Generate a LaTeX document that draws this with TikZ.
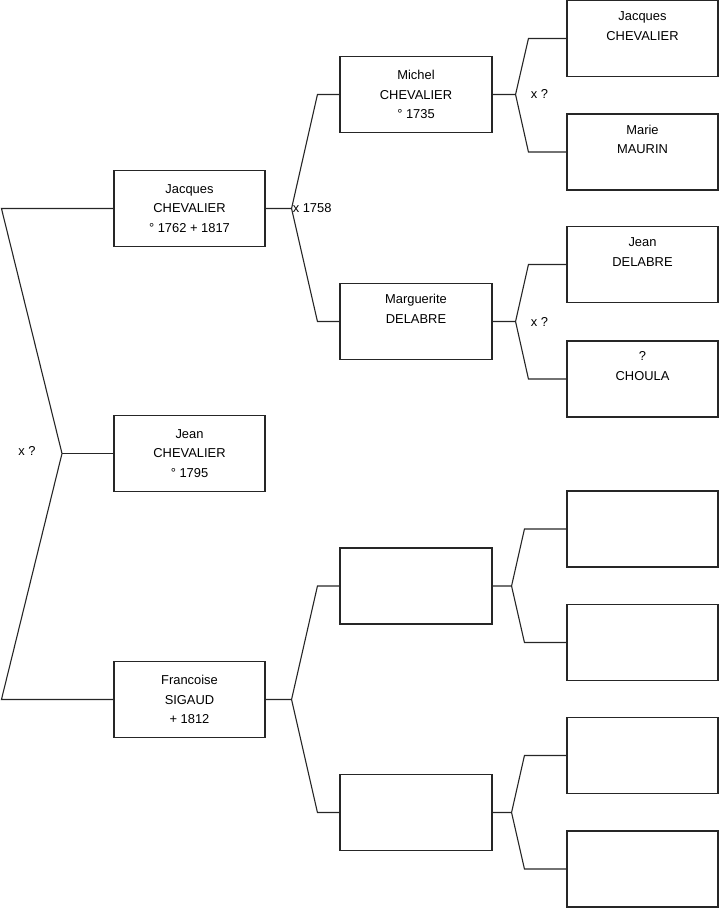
\documentclass[tikz,border=0pt]{standalone}
\usepackage{fontspec}
\setmainfont{Liberation Sans}
\usetikzlibrary{positioning, calc}
\tikzset{
  person/.style={draw=black!85, line width=1.1pt, minimum width=151pt, minimum height=76pt,
    inner sep=0pt, align=center, font=\fontsize{12.9}{19.6}\selectfont},
  link/.style={draw=black!85, line width=1.1pt},
  union/.style={font=\fontsize{12.9}{15}\selectfont, inner sep=0pt},
}

\begin{document}
\begin{tikzpicture}[x=1pt, y=-1pt]
        \useasboundingbox (0,0) rectangle (719,908);
        % Generation 1
        \node[person] (jacques) at (189.5,208.5) {Jacques\\CHEVALIER\\° 1762 + 1817};
        \node[person] (jean) at (189.5,453.5) {Jean\\CHEVALIER\\° 1795};
        \node[person] (francoise) at (189.5,699.5) {Francoise\\SIGAUD\\ + 1812};
        % Generation 2
        \node[person, minimum width=152pt] (michel) at (416,94.5) {Michel\\CHEVALIER\\° 1735};
        \node[person, minimum width=152pt] (marguerite) at (416,321.5) {Marguerite\\DELABRE\\\strut};
        \node[person, minimum width=152pt] (blankA) at (416,586) {};
        \node[person, minimum width=152pt] (blankB) at (416,812.5) {};
        % Generation 3
        \node[person] (jacquesF) at (642.5,38.5) {Jacques\\CHEVALIER\\\strut};
        \node[person] (marie) at (642.5,152) {Marie\\MAURIN\\\strut};
        \node[person] (jeanD) at (642.5,264.5) {Jean\\DELABRE\\\strut};
        \node[person] (choula) at (642.5,379) {?\\CHOULA\\\strut};
        \foreach \i/\y in {1/529, 2/642.5, 3/755.5, 4/869}
          \node[person] (blank\i) at (642.5,\y) {};
        % Root couple
        \coordinate (root) at (62,453.5);
        \draw[link] (jacques.west) -- ++(-112,0) -- (root)
          -- ($(francoise.west)+(-112,0)$) -- (francoise.west);
        \draw[link] (root) -- (jean.west);
        \node[union] at (27,451) {x ?};
        % Parent couples
        \foreach \kid/\dad/\mum/\out/\back in {jacques/michel/marguerite/26/22,
            francoise/blankA/blankB/26/22, michel/jacquesF/marie/23/38,
            marguerite/jeanD/choula/23/38, blankA/blank1/blank2/19/42,
            blankB/blank3/blank4/19/42} {
          \draw[link] (\kid.east) -- ++(\out,0) coordinate (j-\kid)
            -- ([xshift=-\back pt]\dad.west) -- (\dad.west);
          \draw[link] (j-\kid) -- ([xshift=-\back pt]\mum.west) -- (\mum.west);
        }
        % Marriage labels
        \node[union, anchor=west] at ([xshift=1pt]j-jacques) {x 1758};
        \node[union, anchor=west, yshift=1pt] at ([xshift=15pt]j-michel) {x ?};
        \node[union, anchor=west] at ([xshift=15pt]j-marguerite) {x ?};
      \end{tikzpicture}
\end{document}
